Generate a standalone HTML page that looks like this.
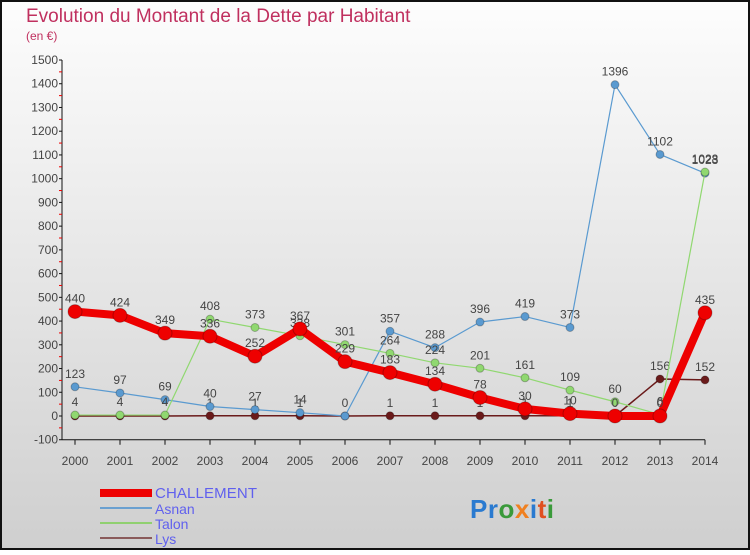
<!DOCTYPE html>
<html><head><meta charset="utf-8"><style>
html,body{margin:0;padding:0}
body{width:750px;height:550px;overflow:hidden;font-family:"Liberation Sans",sans-serif}
</style></head><body>
<svg id="c" width="750" height="550" viewBox="0 0 750 550" xmlns="http://www.w3.org/2000/svg">
<defs><linearGradient id="bg" x1="0" y1="0" x2="0" y2="1"><stop offset="0" stop-color="#fdfdfd"/><stop offset="1" stop-color="#cfcfcf"/></linearGradient></defs>
<rect x="1" y="1" width="748" height="548" fill="url(#bg)" stroke="#111" stroke-width="2"/>
<text x="26" y="22" font-size="19" fill="#c0305f" font-weight="300">Evolution du Montant de la Dette par Habitant</text>
<text x="26" y="40" font-size="12" fill="#c0305f">(en €)</text>
<g id="axes"></g><g id="series"></g>
<g>
<line x1="100" y1="493" x2="152" y2="493" stroke="#ee0000" stroke-width="8"/>
<text x="155" y="498" font-size="15" fill="#6060ee" textLength="102">CHALLEMENT</text>
<line x1="100" y1="508" x2="152" y2="508" stroke="#6aa0d0" stroke-width="2"/>
<text x="155" y="514" font-size="14" fill="#6060ee">Asnan</text>
<line x1="100" y1="523" x2="152" y2="523" stroke="#90d070" stroke-width="2"/>
<text x="155" y="529" font-size="14" fill="#6060ee">Talon</text>
<line x1="100" y1="538" x2="152" y2="538" stroke="#8a5a5a" stroke-width="2"/>
<text x="155" y="544" font-size="14" fill="#6060ee">Lys</text>
</g>
<text x="470" y="518" font-size="26" font-weight="bold" textLength="84"><tspan fill="#2a7ad0">Pr</tspan><tspan fill="#3a9a3a">o</tspan><tspan fill="#f08020">x</tspan><tspan fill="#2a7ad0">i</tspan><tspan fill="#e05020">t</tspan><tspan fill="#3a9a3a">i</tspan></text>
</svg>
<script>
const years=[2000,2001,2002,2003,2004,2005,2006,2007,2008,2009,2010,2011,2012,2013,2014];
const challement=[440,424,349,336,252,367,229,183,134,78,30,10,0,0,435];
const asnan=[123,97,69,40,27,14,0,357,288,396,419,373,1396,1102,1023];
const talon=[4,4,4,408,373,338,301,264,224,201,161,109,60,6,1028];
const lys=[0,0,0,1,1,1,0,1,1,1,1,1,0,156,152];
const yTicks=[-100,0,100,200,300,400,500,600,700,800,900,1000,1100,1200,1300,1400,1500];
const NS="http://www.w3.org/2000/svg";
function X(i){return 75+i*45;}
function Y(v){return 416-v*356/1500;}
function mk(t,a,p){const e=document.createElementNS(NS,t);for(const k in a)e.setAttribute(k,a[k]);p.appendChild(e);return e;}
const ax=document.getElementById('axes');
mk('line',{x1:62,y1:Y(1500),x2:62,y2:Y(-100),stroke:'#111'},ax);
mk('line',{x1:62,y1:Y(-100),x2:X(14),y2:Y(-100),stroke:'#111'},ax);
yTicks.forEach(v=>{
  mk('line',{x1:59,y1:Y(v),x2:62,y2:Y(v),stroke:'#111'},ax);
  if(v<1500){const r=mk('line',{x1:59,y1:Y(v+50),x2:62,y2:Y(v+50),stroke:'#e00'},ax);
  
  }
  const t=mk('text',{x:58,y:Y(v)+4,'font-size':12,fill:'#444','text-anchor':'end'},ax);
  t.textContent=v;
  
  
});
years.forEach((yr,i)=>{
  mk('line',{x1:X(i),y1:Y(-100),x2:X(i),y2:Y(-100)+5,stroke:'#111'},ax);
  const t=mk('text',{x:X(i),y:465,'font-size':12,fill:'#444','text-anchor':'middle'},ax);
  t.textContent=yr;
  
  
});
const sg=document.getElementById('series');
function draw(vals,color,w,r,name,skipZero){
  const g=mk('g',{},sg);
  
  
  mk('polyline',{points:vals.map((v,i)=>X(i)+','+Y(v)).join(' '),fill:'none',stroke:color,'stroke-width':w,'stroke-linejoin':'round'},g);
  vals.forEach((v,i)=>{
    const c=mk('circle',{cx:X(i),cy:Y(v),r:r,fill:color,stroke:'rgba(0,0,0,0.25)'},g);
    
    
    if(skipZero&&v===0)return;
    const t=mk('text',{x:X(i),y:Y(v)-9,'font-size':12,fill:'#444','text-anchor':'middle'},g);
    t.textContent=v;
    
    
  });
}
draw(lys,'#6a1a1a',1.5,4,'lys',true);
draw(asnan,'#5a9ad0',1.2,4,'asnan',false);
draw(talon,'#90d870',1.2,4,'talon',false);
draw(challement,'#ee0000',8,7,'challement',false);
</script>
</body></html>
